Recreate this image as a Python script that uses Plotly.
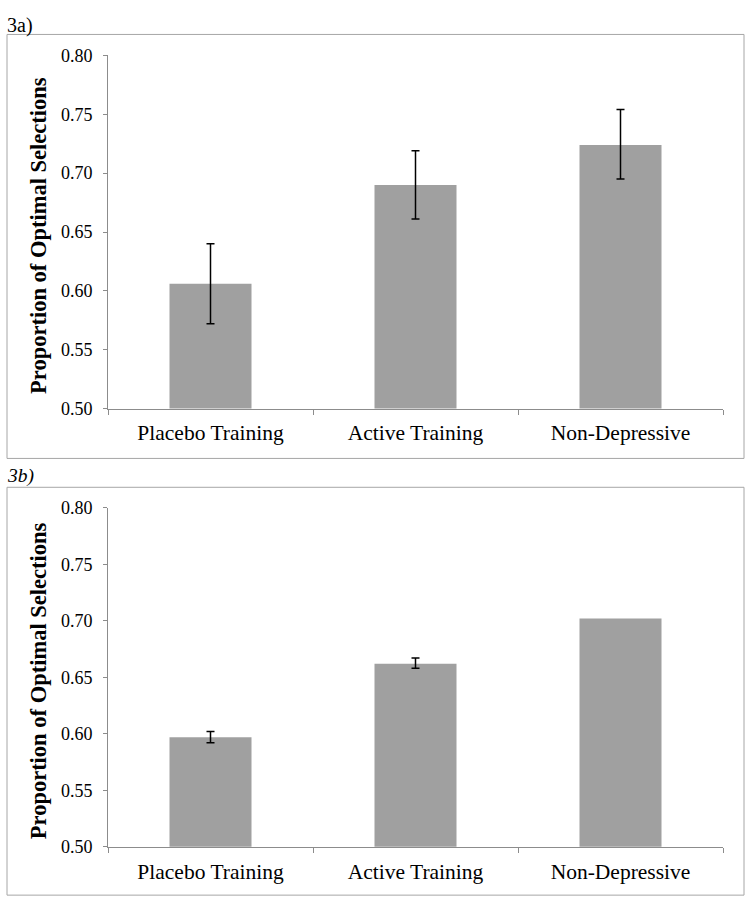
import plotly.graph_objects as go

categories = ["Placebo Training", "Active Training", "Non-Depressive"]

# Panel 3a
values_a = [0.606, 0.690, 0.724]
err_plus_a = [0.034, 0.029, 0.030]
err_minus_a = [0.034, 0.029, 0.029]

# Panel 3b (no error bar drawn for Non-Depressive)
values_b = [0.597, 0.662, 0.702]
err_plus_b = [0.005, 0.005, None]
err_minus_b = [0.005, 0.004, None]

y_ticks = [0.50, 0.55, 0.60, 0.65, 0.70, 0.75, 0.80]
y_ticktext = ["0.50", "0.55", "0.60", "0.65", "0.70", "0.75", "0.80"]

W, H = 751, 911
FONT = "Liberation Serif, Times New Roman, serif"
BAR_COLOR = "#a0a0a0"
AXIS_COLOR = "#8c8c8c"


def py(p):
    return 1 - p / H


def px(p):
    return p / W


fig = go.Figure()


def add_panel(values, ep, em, xa, ya):
    fig.add_trace(go.Bar(
        x=categories, y=values, width=0.4,
        marker=dict(color=BAR_COLOR, line=dict(width=0)),
        xaxis=xa, yaxis=ya, showlegend=False, hoverinfo="skip"))
    idx = [i for i in range(len(categories)) if ep[i] is not None]
    fig.add_trace(go.Scatter(
        x=[categories[i] for i in idx], y=[values[i] for i in idx],
        mode="markers", marker=dict(size=1, opacity=0),
        error_y=dict(type="data", symmetric=False,
                     array=[ep[i] for i in idx], arrayminus=[em[i] for i in idx],
                     color="black", thickness=1.5, width=4),
        xaxis=xa, yaxis=ya, showlegend=False, hoverinfo="skip"))


add_panel(values_a, err_plus_a, err_minus_a, "x", "y")
add_panel(values_b, err_plus_b, err_minus_b, "x2", "y2")

xdom = [px(108), px(723)]

common_x = dict(type="category", range=[-0.5, 2.5], showline=True, linecolor=AXIS_COLOR,
                linewidth=1, ticks="outside", tickson="boundaries", ticklen=5,
                tickcolor=AXIS_COLOR, showgrid=False, zeroline=False,
                tickfont=dict(family=FONT, size=21.5, color="black"), domain=xdom,
                ticklabelstandoff=5, fixedrange=True)
common_y = dict(range=[0.5, 0.8], tickmode="array", tickvals=y_ticks, ticktext=y_ticktext,
                showline=True, linecolor=AXIS_COLOR, linewidth=1, ticks="outside",
                ticklen=4, tickcolor=AXIS_COLOR, showgrid=False, zeroline=False,
                tickfont=dict(family=FONT, size=18, color="black"),
                ticklabelstandoff=7, fixedrange=True)

fig.update_layout(
    width=W, height=H,
    margin=dict(l=0, r=0, t=0, b=0),
    paper_bgcolor="white", plot_bgcolor="white",
    xaxis=dict(**common_x, anchor="y"),
    yaxis=dict(**common_y, domain=[py(407.5), py(46.5)], anchor="x"),
    xaxis2=dict(**common_x, anchor="y2"),
    yaxis2=dict(**common_y, domain=[py(855.5), py(509)], anchor="x2"),
    font=dict(family=FONT, color="black"),
)

# Panel boxes
for (top, bottom) in [(25, 458.5), (488, 905)]:
    fig.add_shape(type="rect", xref="paper", yref="paper",
                  x0=px(7), x1=px(744), y0=py(bottom), y1=py(top),
                  line=dict(color="#a6a6a6", width=1), fillcolor="rgba(0,0,0,0)", layer="below")

# Panel labels
fig.add_annotation(text="3a)", xref="paper", yref="paper", x=px(5), y=py(16),
                   xanchor="left", yanchor="middle", showarrow=False,
                   font=dict(family=FONT, size=20, color="black"))
fig.add_annotation(text="<i>3b)</i>", xref="paper", yref="paper", x=px(5), y=py(476),
                   xanchor="left", yanchor="middle", showarrow=False,
                   font=dict(family=FONT, size=19.5, color="black"))

# Y-axis titles
for yc in [(46.5 + 407.5) / 2 + 3.5, (509 + 855.5) / 2 + 3.5]:
    fig.add_annotation(text="<b>Proportion of Optimal Selections</b>", xref="paper", yref="paper",
                       x=px(38.5), y=py(yc), xanchor="center", yanchor="middle",
                       textangle=-90, showarrow=False,
                       font=dict(family=FONT, size=22.5, color="black"))

fig.write_html("out.html", config={"displayModeBar": False},
               post_script="document.body.style.margin='0';document.body.style.padding='0';")
